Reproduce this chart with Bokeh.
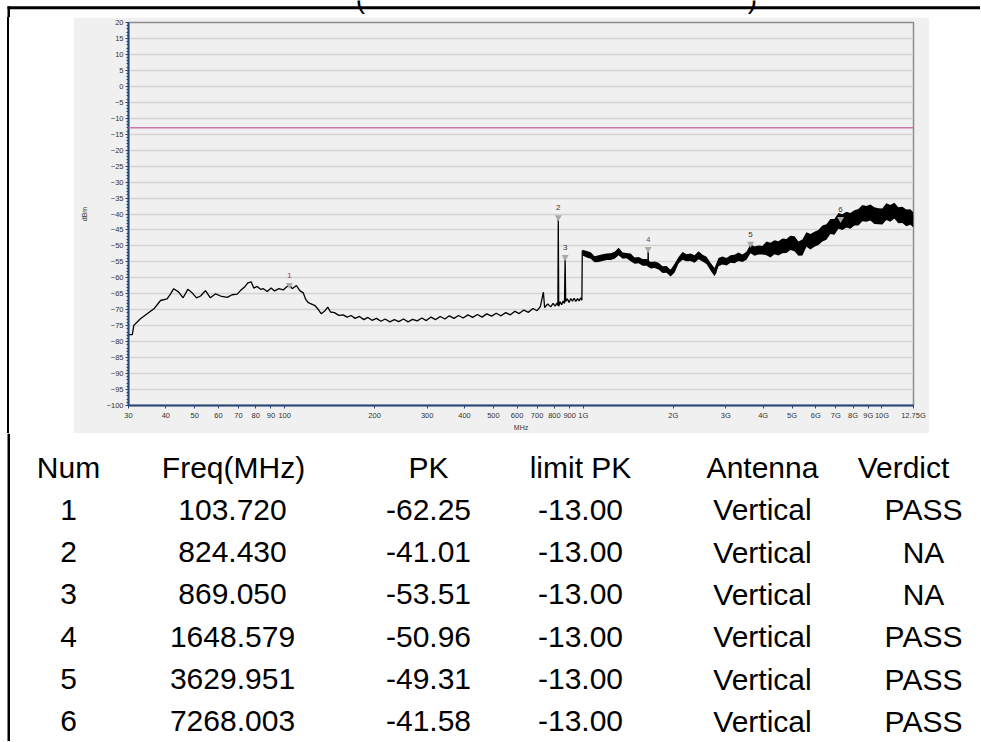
from bokeh.plotting import figure
from bokeh.layouts import column, row
from bokeh.models import Range1d, FixedTicker, Span, ColumnDataSource, Div
from bokeh.core.properties import value
from bokeh.embed import file_html
from bokeh.resources import INLINE

# ---------------- data ----------------
trace_freq = [
    30.0, 30.9, 31.25, 32.9, 34.65, 36.5, 38.4, 40.4, 41.5, 42.5, 44.1, 45.7, 47.4, 49.0, 50.7,
    52.3, 54.3, 56.4, 58.7, 61.0, 64.2, 66.7, 69.4, 71.1, 73.4, 75.3, 77.3, 78.8, 80.9, 83.0,
    84.9, 87.4, 90.1, 92.5, 95.6, 98.9, 101.4, 103.72, 106.0, 109.5, 112.4, 115.4, 117.4, 119.5,
    122.0, 125.9, 129.1, 132.5, 135.9, 139.4, 142.4, 146.8, 151.8, 157.0, 161.9,
    167, 172, 178, 184, 190, 196, 203, 210, 217, 225, 233, 241, 250, 259, 268, 278, 288, 298,
    309, 320, 332, 344, 356, 369, 382, 396, 411, 426, 442, 458, 475, 493, 511, 530, 550, 570,
    590, 610, 632, 655, 678, 700, 718, 735, 742, 760, 778, 792, 805, 815, 822, 824.43, 827,
    836, 846, 856, 865, 869.05, 873, 884, 896, 908, 920, 932, 944, 956, 968, 980, 989,
    992, 1010, 1030, 1056, 1084, 1113, 1141, 1171, 1202, 1233, 1265, 1290, 1314, 1340, 1366,
    1392, 1419, 1447, 1475, 1503, 1533, 1563, 1593, 1620, 1645, 1648.579, 1652, 1700, 1743,
    1780, 1812, 1850, 1884, 1920, 1957, 1995, 2034, 2075, 2115, 2155, 2197, 2240, 2284, 2330,
    2374, 2420, 2467, 2515, 2564, 2614, 2664, 2715, 2769, 2805, 2840, 2890, 2935, 2985, 3031,
    3080, 3130, 3189, 3250, 3300, 3358, 3420, 3489, 3550, 3600, 3629.951, 3660, 3720, 3780,
    3850, 3918, 3990, 4060, 4125, 4200, 4270, 4341, 4420, 4490, 4570, 4650, 4730, 4811, 4890,
    4980, 5064, 5130, 5199, 5265, 5332, 5400, 5469, 5540, 5613, 5690, 5760, 5830, 5907, 5985,
    6060, 6140, 6221, 6300, 6390, 6470, 6552, 6640, 6720, 6800, 6893, 6980, 7076, 7170,
    7268.003, 7360, 7450, 7540, 7642, 7740, 7840, 7940, 8043, 8150, 8250, 8360, 8467, 8580,
    8690, 8800, 8916, 9030, 9150, 9260, 9381, 9500, 9630, 9750, 9878, 10010, 10140, 10270,
    10401, 10540, 10670, 10800, 10944, 11090, 11230, 11380, 11524, 11680, 11830, 11980, 12134,
    12290, 12450, 12612, 12750,
]
trace_level = [
    -77.8, -77.8, -74.9, -72.8, -71.25, -69.7, -67.1, -66.6, -65.0, -63.4, -64.4, -66.25, -63.6, -64.7, -66.3,
    -65.7, -64.0, -66.25, -65.0, -65.7, -66.1, -65.3, -65.1, -64.0, -62.9, -61.6, -61.3, -63.2, -62.7, -63.6,
    -63.4, -64.3, -63.2, -64.1, -63.4, -63.8, -62.9, -62.25, -63.4, -62.4, -64.0, -64.7, -66.6, -67.6,
    -68.1, -68.6, -69.7, -71.25, -70.5, -69.2, -70.7, -70.9, -71.75, -71.6, -72.3,
    -71.8, -72.7, -72.1, -73.1, -72.4, -73.3, -72.7, -73.6, -72.9, -73.8, -73.1, -73.7, -72.9, -73.8, -73.0, -73.5, -72.6, -73.4,
    -72.3, -73.1, -72.1, -72.9, -71.9, -72.7, -71.8, -72.6, -71.6, -72.4, -71.5, -72.3, -71.3, -72.0, -71.1, -71.9, -70.9, -71.6,
    -70.5, -71.2, -70.1, -70.8, -69.6, -70.3, -69.0, -64.5, -69.3, -68.2, -69.1, -68.0, -68.9, -67.9, -68.7, -41.01, -68.9,
    -67.5, -68.4, -67.3, -68.0, -53.51, -67.4, -66.6, -67.7, -66.5, -67.3, -66.4, -67.4, -66.5, -67.2, -66.3, -67.0,
    -51.5, -52.4, -53.0, -52.5, -54.6, -53.5, -54.3, -53.3, -53.0, -53.5, -52.5, -53.2, -52.0, -52.9, -52.8,
    -53.6, -53.3, -54.2, -54.1, -54.8, -54.6, -55.3, -55.1, -55.8, -55.6, -50.96, -55.9, -56.2, -55.8,
    -56.8, -56.5, -57.3, -57.0, -57.8, -58.6, -57.6, -56.2, -54.5, -53.8, -53.2, -53.6, -53.0, -53.9, -53.4,
    -54.0, -53.3, -53.0, -53.8, -54.1, -55.2, -56.2, -57.5, -58.75, -56.5, -54.6, -55.4, -54.5, -55.2, -54.3,
    -54.9, -54.0, -53.5, -54.3, -53.6, -54.1, -53.3, -53.5, -52.8, -52.0, -49.31, -51.6, -51.2, -52.0,
    -51.3, -51.5, -50.8, -51.6, -50.9, -51.4, -50.6, -50.4, -51.0, -50.2, -49.9, -50.5, -49.6, -49.4, -49.9,
    -48.9, -48.6, -49.5, -50.4, -51.6, -52.5, -50.6, -49.4, -48.5, -47.8, -48.6, -48.2, -49.1, -48.9, -47.6,
    -47.9, -46.8, -46.25, -46.4, -45.4, -45.6, -44.7, -44.9, -44.0, -44.3, -43.7, -42.9, -42.1, -42.8,
    -41.58, -42.6, -42.0, -42.4, -41.8, -41.3, -42.0, -41.2, -41.6, -40.9, -41.2, -40.4, -40.5, -40.0,
    -40.3, -39.6, -39.5, -39.9, -39.6, -40.2, -40.0, -40.4, -40.6, -41.2, -41.0, -40.4, -40.1, -39.7,
    -39.5, -39.9, -39.3, -39.6, -39.0, -39.7, -39.3, -40.3, -40.0, -40.5, -40.8, -40.4, -41.0,
    -40.6, -41.3, -41.0, -41.4,
]

# noise envelope of the trace above 1 GHz (upper / lower edge)
band_freq = [995, 1026, 1058, 1091, 1125, 1160, 1197, 1234, 1273, 1313, 1354, 1396, 1440, 1485,
             1531, 1579, 1629, 1680, 1732, 1786, 1842, 1900, 1959, 2021, 2084, 2149, 2216, 2286,
             2357, 2431, 2507, 2585, 2666, 2750, 2836, 2924, 3016, 3110, 3208, 3308, 3411, 3518,
             3628, 3742, 3859, 3979, 4104, 4232, 4365, 4501, 4642, 4787, 4937, 5092, 5251, 5415,
             5585, 5759, 5940, 6125, 6317, 6515, 6718, 6929, 7145, 7369, 7599, 7837, 8082, 8335,
             8596, 8865, 9142, 9428, 9723, 10027, 10341, 10665, 10998, 11343, 11698, 12064,
             12441, 12750]
band_hi = [-51.2, -51.6, -52.0, -53.2, -52.9, -52.6, -52.4, -52.3, -51.8, -50.6, -52.1, -52.2,
           -52.4, -53.6, -53.5, -54.1, -54.1, -55.0, -54.9, -55.3, -56.4, -56.3, -57.5, -55.6,
           -53.5, -51.9, -52.6, -52.4, -52.9, -51.7, -52.8, -53.4, -55.3, -56.9, -53.8, -53.3,
           -53.8, -52.9, -52.8, -52.1, -52.7, -51.8, -49.5, -50.2, -49.9, -50.0,
           -48.6, -49.0, -48.2, -48.5, -47.7, -47.8, -46.8, -47.0, -48.6, -48.0, -45.7, -46.3,
           -45.6, -45.0, -43.6, -43.2, -41.6, -41.6, -39.7, -40.1, -39.3, -39.7, -38.8, -38.4,
           -37.2, -37.5, -37.0, -37.9, -38.2, -38.3, -36.6, -37.2, -36.5, -37.9, -37.7, -38.6,
           -38.5, -39.5]
band_lo = [-53.0, -53.6, -54.0, -55.1, -55.0, -54.7, -54.4, -54.4, -54.0, -52.9, -54.0, -53.9,
           -54.8, -55.6, -55.4, -56.2, -56.2, -57.1, -56.9, -57.4, -58.5, -58.4, -59.6, -58.3,
           -55.5, -54.3, -54.8, -54.7, -55.3, -54.2, -54.9, -55.7, -57.7, -59.5, -56.4, -55.8,
           -56.1, -55.3, -55.4, -54.7, -55.0, -54.3, -52.3, -53.1, -52.7, -52.7,
           -52.9, -53.6, -52.6, -53.0, -52.3, -52.2, -51.3, -51.7, -53.1, -53.0, -50.3, -51.1,
           -50.3, -49.7, -48.6, -48.1, -46.3, -46.5, -44.6, -45.0, -44.2, -44.6, -43.6, -43.6,
           -42.3, -42.4, -42.0, -43.1, -43.2, -43.3, -41.9, -42.4, -41.4, -42.9, -42.8, -43.8,
           -43.4, -44.2]

limit_pk = -13.0

marker_num = [1, 2, 3, 4, 5, 6]
marker_freq = [103.720, 824.430, 869.050, 1648.579, 3629.951, 7268.003]
marker_pk = [-62.25, -41.01, -53.51, -50.96, -49.31, -41.58]
marker_limit = [-13.00, -13.00, -13.00, -13.00, -13.00, -13.00]
marker_antenna = ["Vertical"] * 6
marker_verdict = ["PASS", "NA", "NA", "PASS", "PASS", "PASS"]
marker_label_color = ["#A03050", "#333333", "#333333", "#2F5F9A", "#333333", "#333333"]

x_ticks = [30, 40, 50, 60, 70, 80, 90, 100, 200, 300, 400, 500, 600, 700, 800, 900,
           1000, 2000, 3000, 4000, 5000, 6000, 7000, 8000, 9000, 10000, 12750]
x_tick_labels = ["30", "40", "50", "60", "70", "80", "90", "100", "200", "300", "400", "500",
                 "600", "700", "800", "900", "1G", "2G", "3G", "4G", "5G", "6G", "7G", "8G",
                 "9G", "10G", "12.75G"]
y_ticks = list(range(-100, 21, 5))

table_headers = ["Num", "Freq(MHz)", "PK", "limit PK", "Antenna", "Verdict"]

# ---------------- layout constants ----------------
FONT = "Liberation Sans"
AXIS_BLUE = "#24487A"
PANEL = "#F0F0F0"
PAGE_W = 980


def blank(width, height, xr, yr, fill="white"):
    f = figure(width=width, height=height, x_range=xr, y_range=yr,
               x_axis_location=None, y_axis_location=None,
               output_backend="svg", toolbar_location=None, min_border=0)
    f.grid.visible = False
    f.outline_line_color = None
    f.background_fill_color = fill
    f.border_fill_color = fill
    return f


# top strip (page y 0..17): report frame and the clipped heading line above the chart
top = blank(PAGE_W, 17, Range1d(0, PAGE_W), Range1d(17, 0))
top.quad(left=7, right=PAGE_W, top=5.8, bottom=8.8, fill_color="black", line_color=None)
top.quad(left=7, right=9.5, top=5.8, bottom=17, fill_color="black", line_color=None)
top.text(x=[360, 752], y=[-2.5, -2.5], text=["(", ")"], text_align="center",
         text_baseline="alphabetic", text_font=value(FONT), text_font_size="28px",
         text_color="black")

# white strips beside the chart panel; the left one carries the report frame line
left = Div(text="", width=73, height=416, margin=0,
           styles={"background": "linear-gradient(to right, #ffffff 0px, #ffffff 7px, "
                                 "#000000 7px, #000000 9.5px, #ffffff 9.5px)"})
right = Div(text="", width=PAGE_W - 73 - 856, height=416, margin=0,
            styles={"background": "#ffffff"})

# ---------------- chart ----------------
p = figure(width=856, height=416, x_axis_type="log",
           x_range=Range1d(30, 12750), y_range=Range1d(-100, 20),
           output_backend="svg", toolbar_location=None,
           min_border_left=55, min_border_right=16, min_border_top=5, min_border_bottom=26)
p.border_fill_color = PANEL
p.background_fill_color = PANEL
p.outline_line_color = "#8A8A8A"
p.outline_line_width = 1.5

p.xgrid.visible = False
p.ygrid.grid_line_color = "#D3D3D3"
p.ygrid.grid_line_width = 1.3

p.xaxis.ticker = FixedTicker(ticks=x_ticks, minor_ticks=[])
p.xaxis.major_label_overrides = {t: l for t, l in zip(x_ticks, x_tick_labels)}
p.yaxis.ticker = FixedTicker(ticks=y_ticks, minor_ticks=list(range(-100, 21)))
p.ygrid.ticker = FixedTicker(ticks=y_ticks)

for ax in (p.xaxis[0], p.yaxis[0]):
    ax.axis_line_color = AXIS_BLUE
    ax.axis_line_width = 2
    ax.major_tick_line_color = AXIS_BLUE
    ax.minor_tick_line_color = AXIS_BLUE
    ax.major_tick_in = 0
    ax.major_tick_out = 3
    ax.minor_tick_in = 0
    ax.minor_tick_out = 2
    ax.major_label_standoff = 2
    ax.major_label_text_font = FONT
    ax.major_label_text_font_size = "7.5px"
    ax.major_label_text_color = "#333333"
    ax.axis_label_text_font = FONT
    ax.axis_label_text_font_size = "7px"
    ax.axis_label_text_font_style = "normal"
    ax.axis_label_text_color = "#333333"

p.xaxis.axis_label = "MHz"
p.xaxis.axis_label_standoff = 1
p.yaxis.axis_label = "dBm"
p.yaxis.axis_label_standoff = 16

p.add_layout(Span(location=limit_pk, dimension="width", line_color="#CC77AA", line_width=1.5))

p.varea(x=band_freq, y1=band_lo, y2=band_hi, fill_color="black")
p.line(trace_freq, trace_level, line_color="black", line_width=1.3)

msrc = ColumnDataSource(dict(f=marker_freq, v=marker_pk,
                             t=[str(n) for n in marker_num], c=marker_label_color))
p.scatter("f", "v", source=msrc, marker="inverted_triangle", size=7,
          fill_color="#A8A8A8", line_color=None)
p.text("f", "v", text="t", source=msrc, text_color="c", text_align="center",
       text_baseline="bottom", y_offset=-7, text_font=value(FONT), text_font_size="8px")

# ---------------- table (page y 433..741) ----------------
TAB_H = 308
n_rows = len(marker_num)
pitch = 42.33
top_idx = -34 / pitch
bot_idx = (TAB_H - 34) / pitch
tab = blank(PAGE_W, TAB_H, Range1d(0, PAGE_W), Range1d(bot_idx, top_idx))
tab.quad(left=7, right=9.5, top=top_idx, bottom=bot_idx, fill_color="black", line_color=None)

header_x = [68, 233, 428, 580, 762, 903]
value_x = [68, 232, 428, 580, 762, 923]

tab.text(x=header_x, y=[0] * 6, text=table_headers, text_align="center",
         text_baseline="middle", text_font=value(FONT), text_font_size="30px", text_color="black")

columns = [
    [str(n) for n in marker_num],
    [f"{f:.3f}" for f in marker_freq],
    [f"{v:.2f}" for v in marker_pk],
    [f"{v:.2f}" for v in marker_limit],
    marker_antenna,
    marker_verdict,
]
for ci, col in enumerate(columns):
    tab.text(x=[value_x[ci]] * n_rows, y=list(range(1, n_rows + 1)), text=col,
             text_align="center", text_baseline="middle", text_font=value(FONT),
             text_font_size="30px", text_color="black")

layout = column(top, row(left, p, right), tab)
open("out.html", "w").write(file_html(layout, INLINE))
